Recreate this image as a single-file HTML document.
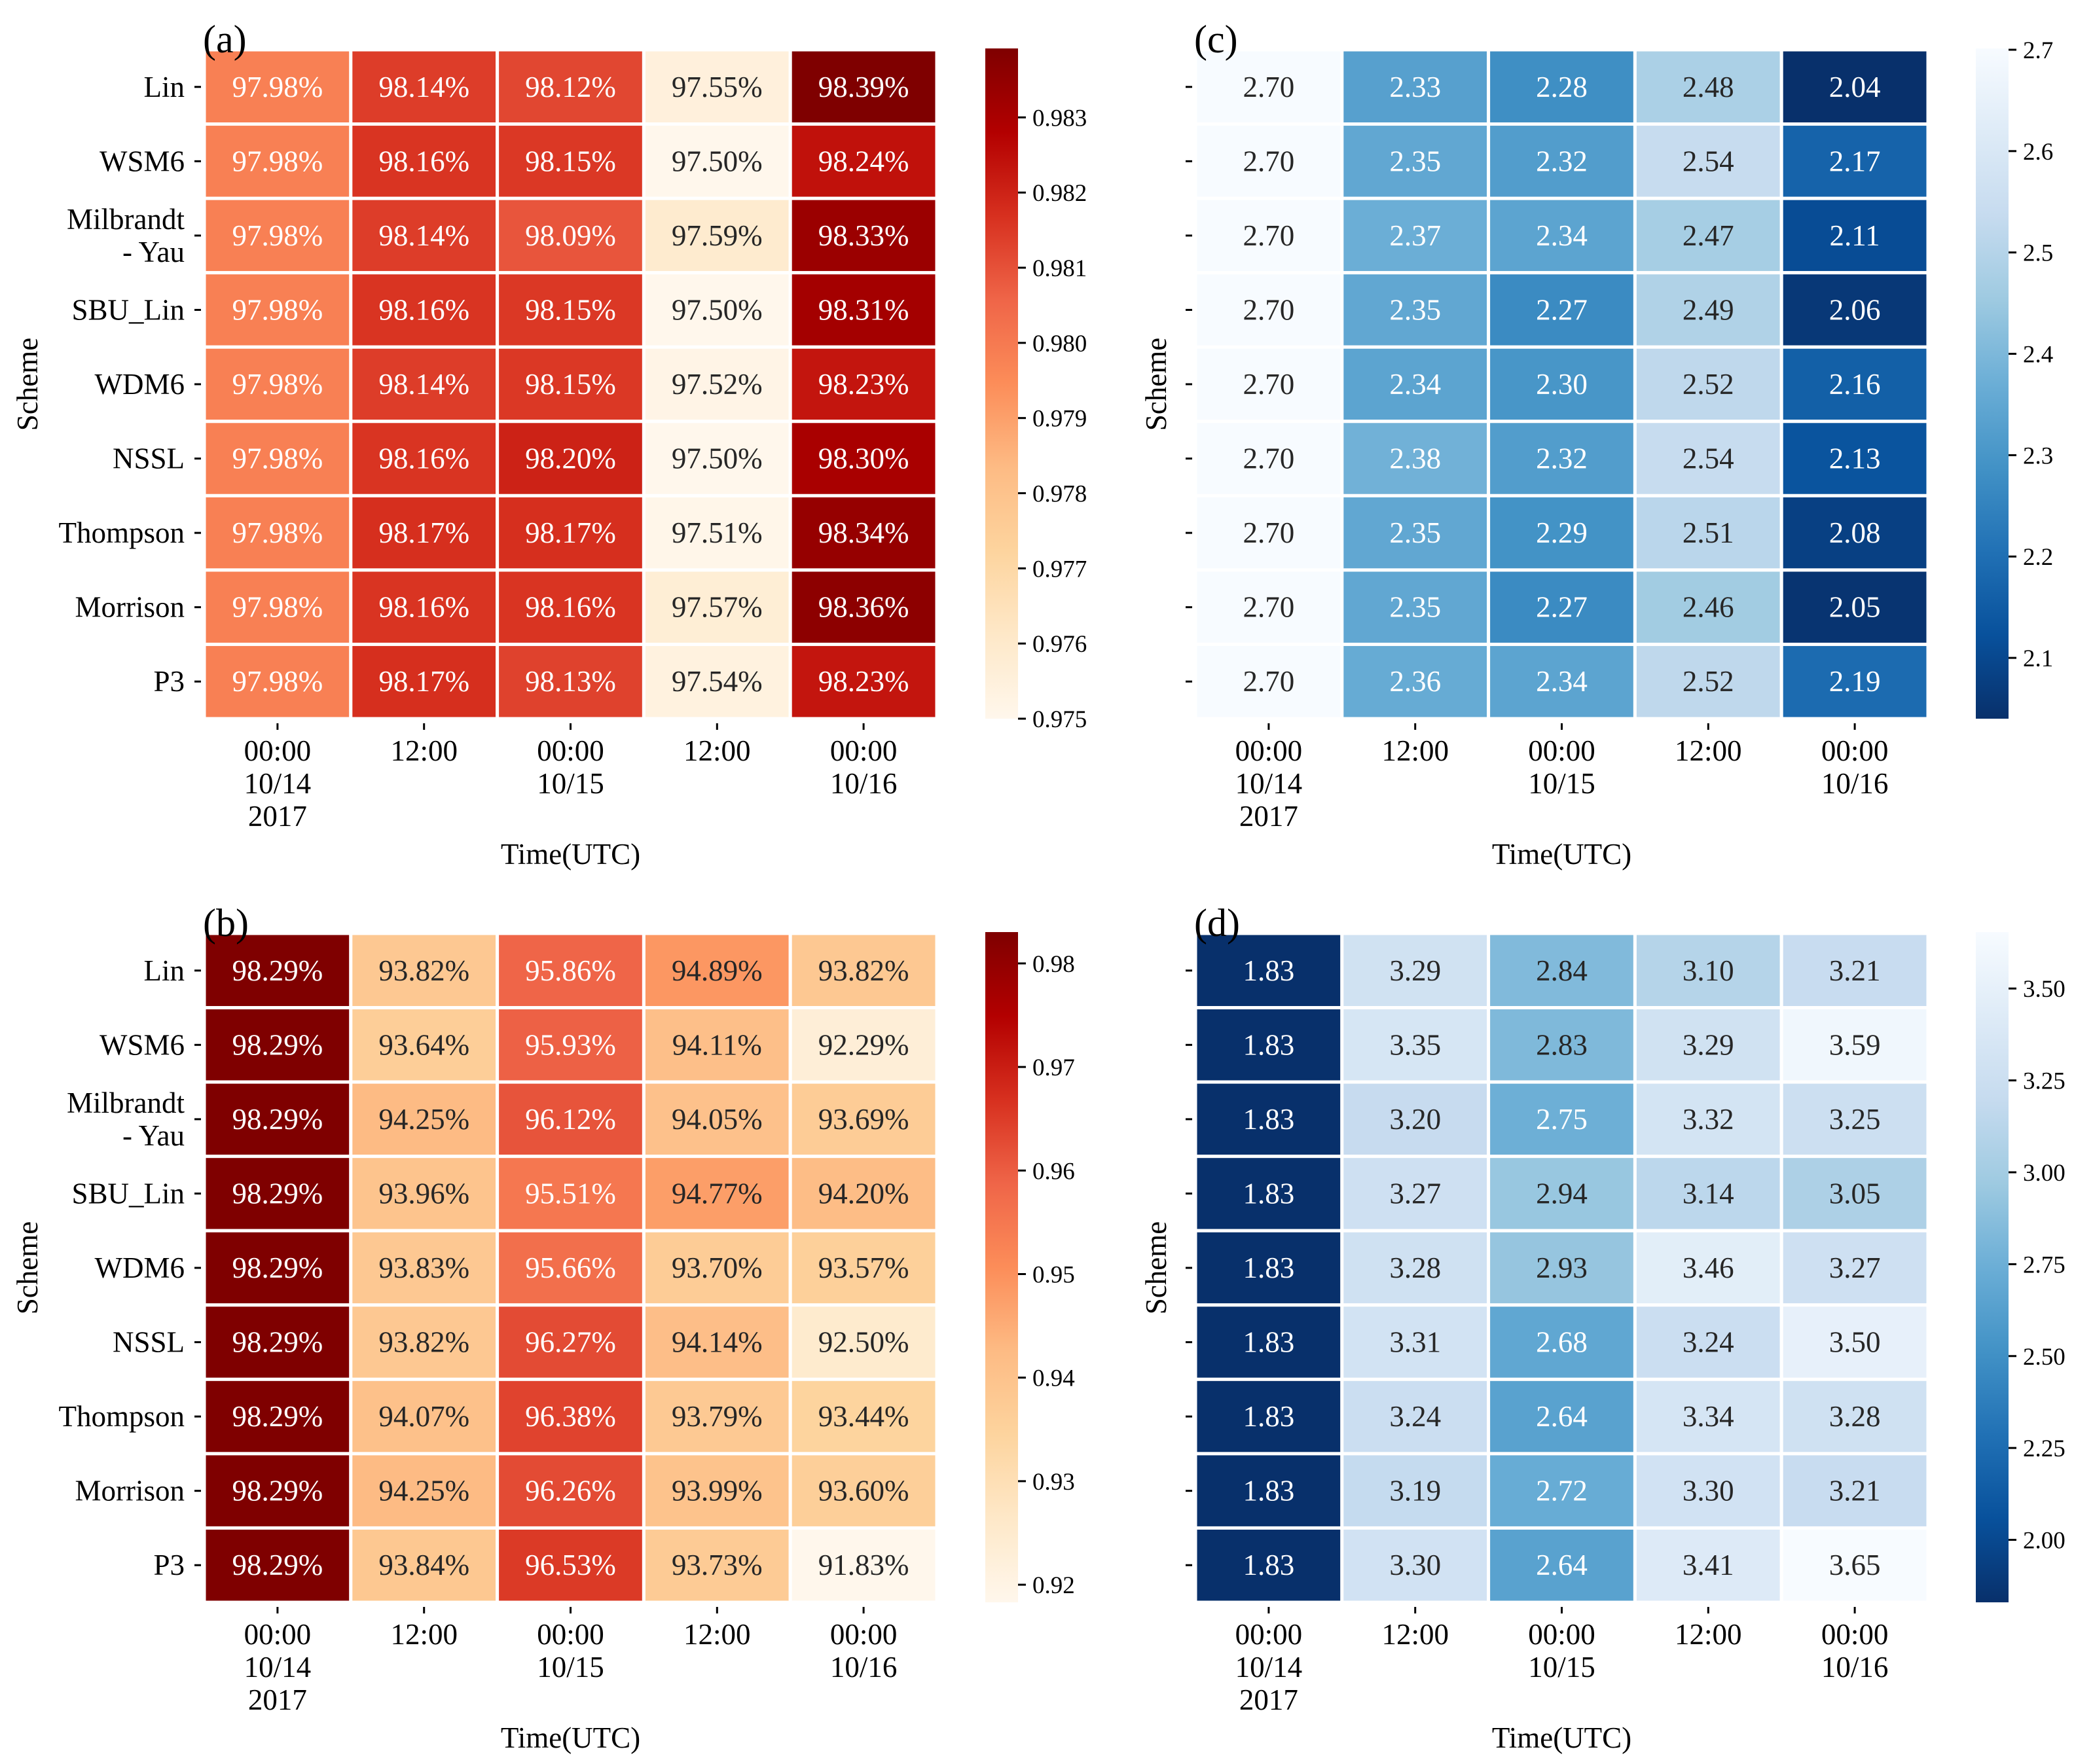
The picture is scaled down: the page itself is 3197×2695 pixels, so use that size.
<!DOCTYPE html>
<html><head><meta charset="utf-8">
<style>
html,body{margin:0;padding:0;background:#fff;}
svg{display:block;font-family:"Liberation Serif",serif;}
</style></head>
<body>
<svg id="fig" width="3197" height="2695" viewBox="0 0 3197 2695" xmlns="http://www.w3.org/2000/svg">
<defs>
<linearGradient id="gOrRd" x1="0" y1="1" x2="0" y2="0">
<stop offset="0" stop-color="#fff7ec"/><stop offset="0.125" stop-color="#fee8c8"/><stop offset="0.25" stop-color="#fdd49e"/><stop offset="0.375" stop-color="#fdbb84"/><stop offset="0.5" stop-color="#fc8d59"/><stop offset="0.625" stop-color="#ef6548"/><stop offset="0.75" stop-color="#d7301f"/><stop offset="0.875" stop-color="#b30000"/><stop offset="1" stop-color="#7f0000"/>
</linearGradient>
<linearGradient id="gBlues" x1="0" y1="0" x2="0" y2="1">
<stop offset="0" stop-color="#f7fbff"/><stop offset="0.125" stop-color="#deebf7"/><stop offset="0.25" stop-color="#c6dbef"/><stop offset="0.375" stop-color="#9ecae1"/><stop offset="0.5" stop-color="#6baed6"/><stop offset="0.625" stop-color="#4292c6"/><stop offset="0.75" stop-color="#2171b5"/><stop offset="0.875" stop-color="#08519c"/><stop offset="1" stop-color="#08306b"/>
</linearGradient>
</defs>
</svg>
<script>
const schemes = ["Lin","WSM6","Milbrandt\n- Yau","SBU_Lin","WDM6","NSSL","Thompson","Morrison","P3"];
const timeLabels = ["00:00\n10/14\n2017","12:00","00:00\n10/15","12:00","00:00\n10/16"];
const dataA = [
[97.98,98.14,98.12,97.55,98.39],[97.98,98.16,98.15,97.50,98.24],[97.98,98.14,98.09,97.59,98.33],
[97.98,98.16,98.15,97.50,98.31],[97.98,98.14,98.15,97.52,98.23],[97.98,98.16,98.20,97.50,98.30],
[97.98,98.17,98.17,97.51,98.34],[97.98,98.16,98.16,97.57,98.36],[97.98,98.17,98.13,97.54,98.23]];
const dataB = [
[98.29,93.82,95.86,94.89,93.82],[98.29,93.64,95.93,94.11,92.29],[98.29,94.25,96.12,94.05,93.69],
[98.29,93.96,95.51,94.77,94.20],[98.29,93.83,95.66,93.70,93.57],[98.29,93.82,96.27,94.14,92.50],
[98.29,94.07,96.38,93.79,93.44],[98.29,94.25,96.26,93.99,93.60],[98.29,93.84,96.53,93.73,91.83]];
const dataC = [
[2.70,2.33,2.28,2.48,2.04],[2.70,2.35,2.32,2.54,2.17],[2.70,2.37,2.34,2.47,2.11],
[2.70,2.35,2.27,2.49,2.06],[2.70,2.34,2.30,2.52,2.16],[2.70,2.38,2.32,2.54,2.13],
[2.70,2.35,2.29,2.51,2.08],[2.70,2.35,2.27,2.46,2.05],[2.70,2.36,2.34,2.52,2.19]];
const dataD = [
[1.83,3.29,2.84,3.10,3.21],[1.83,3.35,2.83,3.29,3.59],[1.83,3.20,2.75,3.32,3.25],
[1.83,3.27,2.94,3.14,3.05],[1.83,3.28,2.93,3.46,3.27],[1.83,3.31,2.68,3.24,3.50],
[1.83,3.24,2.64,3.34,3.28],[1.83,3.19,2.72,3.30,3.21],[1.83,3.30,2.64,3.41,3.65]];
const ticksA = [0.975,0.976,0.977,0.978,0.979,0.980,0.981,0.982,0.983];
const ticksB = [0.92,0.93,0.94,0.95,0.96,0.97,0.98];
const ticksC = [2.1,2.2,2.3,2.4,2.5,2.6,2.7];
const ticksD = [2.00,2.25,2.50,2.75,3.00,3.25,3.50];

const OrRd = ["#fff7ec","#fee8c8","#fdd49e","#fdbb84","#fc8d59","#ef6548","#d7301f","#b30000","#7f0000"];
const BluesR = ["#08306b","#08519c","#2171b5","#4292c6","#6baed6","#9ecae1","#c6dbef","#deebf7","#f7fbff"];
function hex(h){return [1,3,5].map(i=>parseInt(h.substr(i,2),16));}
function cmap(stops,t){t=Math.max(0,Math.min(1,t));const p=t*(stops.length-1);const i=Math.min(stops.length-2,Math.floor(p));const f=p-i;const a=hex(stops[i]),b=hex(stops[i+1]);return a.map((v,k)=>Math.round(v+(b[k]-v)*f));}
function relLum(rgb){const l=rgb.map(v=>{v/=255;return v<=0.03928?v/12.92:Math.pow((v+0.055)/1.055,2.4);});return 0.2126*l[0]+0.7152*l[1]+0.0722*l[2];}
const svg=document.getElementById('fig');
const NS="http://www.w3.org/2000/svg";
function mk(tag,attrs,parent){const e=document.createElementNS(NS,tag);for(const k in attrs)e.setAttribute(k,attrs[k]);(parent||svg).appendChild(e);return e;}

function panel(o){
  const g=mk('g',{});
  
  
  const x0=o.x,x1=o.x+1119,y0=o.y,y1=o.y+1022;
  const cw=(x1-x0)/5,ch=(y1-y0)/9;
  const mn=Math.min(...o.data.flat()),mx=Math.max(...o.data.flat());
  const sx=c=>x0+c*cw, sy=r=>y0+r*ch;
  for(let r=0;r<9;r++)for(let c=0;c<5;c++){
    const v=o.data[r][c];const rgb=cmap(o.stops,(v-mn)/(mx-mn));
    const rect=mk('rect',{x:sx(c),y:sy(r),width:cw,height:ch,fill:`rgb(${rgb})`,stroke:'#fff','stroke-width':5},g);
    
    
    const t=mk('text',{x:sx(c)+cw/2,y:sy(r)+ch/2+15,'text-anchor':'middle','font-size':45,fill:relLum(rgb)>0.408?'#262626':'#ffffff'},g);
    t.textContent=o.pct?v.toFixed(2)+'%':v.toFixed(2);
    
    
  }
  for(let r=0;r<9;r++){
    const cy=sy(r)+ch/2;
    mk('line',{x1:x0-15,x2:x0-5,y1:cy,y2:cy,stroke:'#000','stroke-width':3},g);
    if(o.ylabels){
      const lines=schemes[r].split('\n');
      lines.forEach((ln,i)=>{
        const t=mk('text',{x:x0-30,y:cy+15+(i-(lines.length-1)/2)*50,'text-anchor':'end','font-size':45},g);
        t.textContent=ln;
        
        
      });
    }
  }
  for(let c=0;c<5;c++){
    const cx=sx(c)+cw/2;
    mk('line',{x1:cx,x2:cx,y1:y1+7,y2:y1+17,stroke:'#000','stroke-width':3},g);
    timeLabels[c].split('\n').forEach((ln,i)=>{
      const t=mk('text',{x:cx,y:y1+64+i*50,'text-anchor':'middle','font-size':45},g);
      t.textContent=ln;
      
      
    });
  }
  const xt=mk('text',{x:(x0+x1)/2,y:y1+222,'text-anchor':'middle','font-size':45},g);
  xt.textContent='Time(UTC)';
  
  
  const yx=x0-(o.ylabels?255:45), yy=(y0+y1)/2;
  const yt=mk('text',{x:yx,y:yy,'text-anchor':'middle','font-size':45,transform:`rotate(-90 ${yx} ${yy})`},g);
  yt.textContent='Scheme';
  
  
  const pl=mk('text',{x:x0-2,y:y0+4,'font-size':60},g);
  pl.textContent='('+o.letter+')';
  
  
  const cbx=o.cbx,cbw=50;
  const cb=mk('rect',{x:cbx,y:y0-2,width:cbw,height:y1-y0+2,fill:o.grad},g);
  
  
  const cy=v=>y1-(v-mn)/(mx-mn)*(y1-y0);
  o.ticks.forEach(tv=>{
    const yy2=cy(tv*o.tscale);
    mk('line',{x1:cbx+cbw,x2:cbx+cbw+12,y1:yy2,y2:yy2,stroke:'#000','stroke-width':3},g);
    const t=mk('text',{x:cbx+cbw+22,y:yy2+13,'font-size':37},g);
    t.textContent=tv.toFixed(o.dec);
    
    
  });
}
panel({letter:'a',x:312,y:76,data:dataA,stops:OrRd,grad:'url(#gOrRd)',pct:true,ylabels:true,cbx:1505,ticks:ticksA,tscale:100,dec:3});
panel({letter:'b',x:312,y:1426,data:dataB,stops:OrRd,grad:'url(#gOrRd)',pct:true,ylabels:true,cbx:1505,ticks:ticksB,tscale:100,dec:2});
panel({letter:'c',x:1826,y:76,data:dataC,stops:BluesR,grad:'url(#gBlues)',pct:false,ylabels:false,cbx:3018,ticks:ticksC,tscale:1,dec:1});
panel({letter:'d',x:1826,y:1426,data:dataD,stops:BluesR,grad:'url(#gBlues)',pct:false,ylabels:false,cbx:3018,ticks:ticksD,tscale:1,dec:2});
</script>
</body></html>
